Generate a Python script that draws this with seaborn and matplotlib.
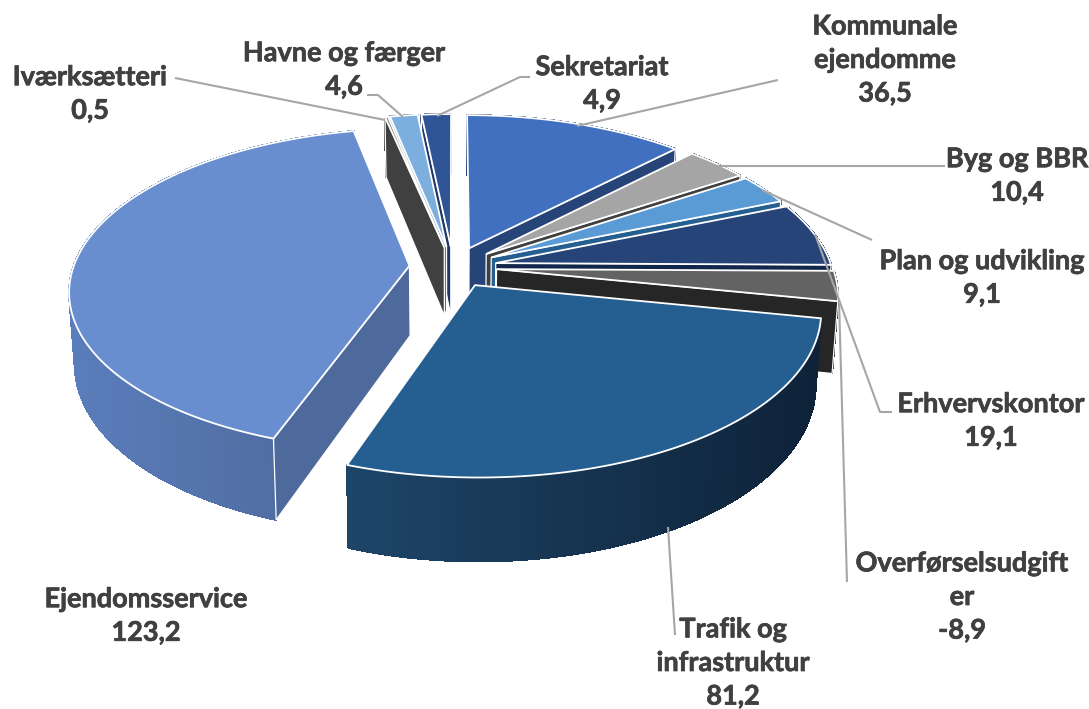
import numpy as np
import seaborn as sns
import matplotlib.pyplot as plt
import matplotlib.patheffects as pe

names = ['Kommunale\nejendomme', 'Byg og BBR', 'Plan og udvikling', 'Erhvervskontor',
         'Overførselsudgift\ner', 'Trafik og\ninfrastruktur', 'Ejendomsservice',
         'Iværksætteri', 'Havne og færger', 'Sekretariat']
values = [36.5, 10.4, 9.1, 19.1, -8.9, 81.2, 123.2, 0.5, 4.6, 4.9]

top_colors = ['#4070BF', '#A5A5A5', '#5B9BD5', '#264478', '#636363',
              '#255E91', '#698ED0', '#7F7F7F', '#7CAFDD', '#2F5597']
side_colors = ['#264478', '#404040', '#255E91', '#10264A', '#262626',
               '#0F2640', '#4E6A9C', '#404040', '#3F6F9F', '#1F3864']
# left/right ends of the shading on the two big outer walls
wall_left = {5: '#1D4568', 6: '#5A7DBB'}
wall_right = {5: '#0E2238', 6: '#4D6899'}

draw_order = [9, 8, 7, 0, 1, 2, 3, 4, 6, 5]

label_x = [885, 1017, 982, 991, 962, 733, 146, 90, 344, 602]
label_y = [60, 176, 278, 421, 597, 663, 616, 94, 70, 84]

leaders = [
    ([577, 778], [126, 80]),
    ([717, 945], [166, 166]),
    ([762, 872], [190, 240]),
    ([815, 880, 892], [234, 412, 412]),
    ([839, 847], [300, 582]),
    ([668, 675], [527, 635]),
    ([385, 175], [120, 78]),
    ([403, 378, 367], [117, 95, 95]),
    ([437, 520, 530], [116, 77, 77]),
]

# tilted disc with perspective
CX, CY = 453, 267
RX, RY = 336, 158
PERSP = 0.148
EXPLODE = 0.13
DEPTH = 70


def project(x, y, down=False):
    k = 1 / (1 + PERSP * y)
    sx = CX + RX * x * k
    sy = CY - RY * y * k
    if down:
        sx = CX + (sx - CX) * 0.985
        sy = sy + DEPTH * k
    return sx, sy


sns.set_theme(style='white')
plt.rcParams['font.family'] = ['Lato', 'DejaVu Sans']

fig, ax = plt.subplots(figsize=(10.89, 7.09), dpi=100)
fig.subplots_adjust(0, 0, 1, 1)
ax.set_xlim(0, 1089)
ax.set_ylim(709, 0)
ax.axis('off')

sizes = np.abs(values)
edges = np.concatenate([[0], np.cumsum(sizes)]) / sizes.sum() * 2 * np.pi

for i in draw_order:
    a0, a1 = edges[i], edges[i + 1]
    mid = (a0 + a1) / 2
    layer = draw_order.index(i) * 3
    ax0 = EXPLODE * np.sin(mid)
    ay0 = EXPLODE * np.cos(mid)
    th = np.linspace(a0, a1, max(int((a1 - a0) * 60), 3))
    rx = ax0 + np.sin(th)
    ry = ay0 + np.cos(th)

    top_x, top_y = project(rx, ry)
    bot_x, bot_y = project(rx, ry, down=True)
    apex_x, apex_y = project(ax0, ay0)
    apex_bx, apex_by = project(ax0, ay0, down=True)

    # outer wall strips
    shades = sns.blend_palette([wall_left.get(i, side_colors[i]), wall_right.get(i, side_colors[i])], 256)
    x_lo, x_hi = top_x.min(), top_x.max()
    for j in range(len(th) - 1):
        pos = int(((top_x[j] + top_x[j + 1]) / 2 - x_lo) / max(x_hi - x_lo, 1) * 255)
        c = shades[pos]
        ax.fill([top_x[j], top_x[j + 1], bot_x[j + 1], bot_x[j]],
                [top_y[j], top_y[j + 1], bot_y[j + 1], bot_y[j]],
                facecolor=c, edgecolor=c, lw=0.8, antialiased=False, zorder=2 + layer)

    # only the radial walls that face the viewer
    if np.sin(a0) < -1e-6:
        ax.fill([apex_x, top_x[0], bot_x[0], apex_bx], [apex_y, top_y[0], bot_y[0], apex_by],
                facecolor=side_colors[i], edgecolor='white', lw=0.9, zorder=3 + layer)
    if np.sin(a1) > 1e-6:
        ax.fill([apex_x, top_x[-1], bot_x[-1], apex_bx], [apex_y, top_y[-1], bot_y[-1], apex_by],
                facecolor=side_colors[i], edgecolor='white', lw=0.9, zorder=3 + layer)

    # top face
    ax.fill(np.r_[apex_x, top_x], np.r_[apex_y, top_y], facecolor=top_colors[i],
            edgecolor='white', lw=1.3, joinstyle='miter', zorder=4 + layer)

for lx, ly in leaders:
    ax.plot(lx, ly, color='#A6A6A6', lw=1.5, zorder=50, solid_capstyle='butt')

for name, val, x, y in zip(names, values, label_x, label_y):
    txt = name + '\n' + f'{val:.1f}'.replace('.', ',')
    t = ax.text(x, y, txt, ha='center', va='center', fontsize=19.5, fontweight='bold',
                color='#404040', linespacing=1.48, zorder=60)
    t.set_path_effects([pe.withStroke(linewidth=0.5, foreground='#404040')])

fig.savefig('out.png', dpi=100)
